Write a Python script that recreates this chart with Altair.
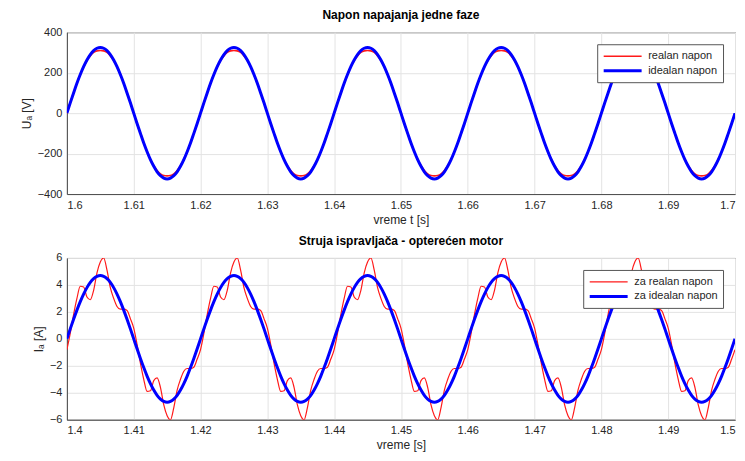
import altair as alt
import numpy as np
import pandas as pd

# time grids (0.5 ms sampling)
t_top = np.round(np.linspace(1.6, 1.7, 201), 5)
t_bot = np.round(np.linspace(1.4, 1.5, 201), 5)

u_real = [
    0, 51, 100, 148, 191, 229, 260, 283, 300, 308, 310, 308, 300, 283, 260, 229, 191, 148, 100, 51,
    0, -51, -100, -148, -191, -229, -260, -283, -300, -308, -310, -308, -300, -283, -260, -229, -191, -148, -100, -51,
    0, 51, 100, 148, 191, 229, 260, 283, 300, 308, 310, 308, 300, 283, 260, 229, 191, 148, 100, 51,
    0, -51, -100, -148, -191, -229, -260, -283, -300, -308, -310, -308, -300, -283, -260, -229, -191, -148, -100, -51,
    0, 51, 100, 148, 191, 229, 260, 283, 300, 308, 310, 308, 300, 283, 260, 229, 191, 148, 100, 51,
    0, -51, -100, -148, -191, -229, -260, -283, -300, -308, -310, -308, -300, -283, -260, -229, -191, -148, -100, -51,
    0, 51, 100, 148, 191, 229, 260, 283, 300, 308, 310, 308, 300, 283, 260, 229, 191, 148, 100, 51,
    0, -51, -100, -148, -191, -229, -260, -283, -300, -308, -310, -308, -300, -283, -260, -229, -191, -148, -100, -51,
    0, 51, 100, 148, 191, 229, 260, 283, 300, 308, 310, 308, 300, 283, 260, 229, 191, 148, 100, 51,
    0, -51, -100, -148, -191, -229, -260, -283, -300, -308, -310, -308, -300, -283, -260, -229, -191, -148, -100, -51,
    0,
]

u_ideal = [
    0, 51, 100, 148, 191, 230, 263, 290, 309, 321, 325, 321, 309, 290, 263, 230, 191, 148, 100, 51,
    0, -51, -100, -148, -191, -230, -263, -290, -309, -321, -325, -321, -309, -290, -263, -230, -191, -148, -100, -51,
    0, 51, 100, 148, 191, 230, 263, 290, 309, 321, 325, 321, 309, 290, 263, 230, 191, 148, 100, 51,
    0, -51, -100, -148, -191, -230, -263, -290, -309, -321, -325, -321, -309, -290, -263, -230, -191, -148, -100, -51,
    0, 51, 100, 148, 191, 230, 263, 290, 309, 321, 325, 321, 309, 290, 263, 230, 191, 148, 100, 51,
    0, -51, -100, -148, -191, -230, -263, -290, -309, -321, -325, -321, -309, -290, -263, -230, -191, -148, -100, -51,
    0, 51, 100, 148, 191, 230, 263, 290, 309, 321, 325, 321, 309, 290, 263, 230, 191, 148, 100, 51,
    0, -51, -100, -148, -191, -230, -263, -290, -309, -321, -325, -321, -309, -290, -263, -230, -191, -148, -100, -51,
    0, 51, 100, 148, 191, 230, 263, 290, 309, 321, 325, 321, 309, 290, 263, 230, 191, 148, 100, 51,
    0, -51, -100, -148, -191, -230, -263, -290, -309, -321, -325, -321, -309, -290, -263, -230, -191, -148, -100, -51,
    0,
]

i_real = [
    -0.8, 0.4, 1.8, 3.0, 3.9, 3.85, 3.1, 2.9, 3.6, 4.9, 5.7, 6.0, 5.1, 3.8, 3.0, 2.4, 2.2, 2.2, 2.1, 1.5,
    0.8, -0.4, -1.8, -3.0, -3.9, -3.85, -3.1, -2.9, -3.6, -4.9, -5.7, -6.0, -5.1, -3.8, -3.0, -2.4, -2.2, -2.2, -2.1, -1.5,
    -0.8, 0.4, 1.8, 3.0, 3.9, 3.85, 3.1, 2.9, 3.6, 4.9, 5.7, 6.0, 5.1, 3.8, 3.0, 2.4, 2.2, 2.2, 2.1, 1.5,
    0.8, -0.4, -1.8, -3.0, -3.9, -3.85, -3.1, -2.9, -3.6, -4.9, -5.7, -6.0, -5.1, -3.8, -3.0, -2.4, -2.2, -2.2, -2.1, -1.5,
    -0.8, 0.4, 1.8, 3.0, 3.9, 3.85, 3.1, 2.9, 3.6, 4.9, 5.7, 6.0, 5.1, 3.8, 3.0, 2.4, 2.2, 2.2, 2.1, 1.5,
    0.8, -0.4, -1.8, -3.0, -3.9, -3.85, -3.1, -2.9, -3.6, -4.9, -5.7, -6.0, -5.1, -3.8, -3.0, -2.4, -2.2, -2.2, -2.1, -1.5,
    -0.8, 0.4, 1.8, 3.0, 3.9, 3.85, 3.1, 2.9, 3.6, 4.9, 5.7, 6.0, 5.1, 3.8, 3.0, 2.4, 2.2, 2.2, 2.1, 1.5,
    0.8, -0.4, -1.8, -3.0, -3.9, -3.85, -3.1, -2.9, -3.6, -4.9, -5.7, -6.0, -5.1, -3.8, -3.0, -2.4, -2.2, -2.2, -2.1, -1.5,
    -0.8, 0.4, 1.8, 3.0, 3.9, 3.85, 3.1, 2.9, 3.6, 4.9, 5.7, 6.0, 5.1, 3.8, 3.0, 2.4, 2.2, 2.2, 2.1, 1.5,
    0.8, -0.4, -1.8, -3.0, -3.9, -3.85, -3.1, -2.9, -3.6, -4.9, -5.7, -6.0, -5.1, -3.8, -3.0, -2.4, -2.2, -2.2, -2.1, -1.5,
    -0.8,
]

i_ideal = [
    0, 0.74, 1.45, 2.13, 2.76, 3.32, 3.8, 4.19, 4.47, 4.64, 4.7, 4.64, 4.47, 4.19, 3.8, 3.32, 2.76, 2.13, 1.45, 0.74,
    0, -0.74, -1.45, -2.13, -2.76, -3.32, -3.8, -4.19, -4.47, -4.64, -4.7, -4.64, -4.47, -4.19, -3.8, -3.32, -2.76, -2.13, -1.45, -0.74,
    0, 0.74, 1.45, 2.13, 2.76, 3.32, 3.8, 4.19, 4.47, 4.64, 4.7, 4.64, 4.47, 4.19, 3.8, 3.32, 2.76, 2.13, 1.45, 0.74,
    0, -0.74, -1.45, -2.13, -2.76, -3.32, -3.8, -4.19, -4.47, -4.64, -4.7, -4.64, -4.47, -4.19, -3.8, -3.32, -2.76, -2.13, -1.45, -0.74,
    0, 0.74, 1.45, 2.13, 2.76, 3.32, 3.8, 4.19, 4.47, 4.64, 4.7, 4.64, 4.47, 4.19, 3.8, 3.32, 2.76, 2.13, 1.45, 0.74,
    0, -0.74, -1.45, -2.13, -2.76, -3.32, -3.8, -4.19, -4.47, -4.64, -4.7, -4.64, -4.47, -4.19, -3.8, -3.32, -2.76, -2.13, -1.45, -0.74,
    0, 0.74, 1.45, 2.13, 2.76, 3.32, 3.8, 4.19, 4.47, 4.64, 4.7, 4.64, 4.47, 4.19, 3.8, 3.32, 2.76, 2.13, 1.45, 0.74,
    0, -0.74, -1.45, -2.13, -2.76, -3.32, -3.8, -4.19, -4.47, -4.64, -4.7, -4.64, -4.47, -4.19, -3.8, -3.32, -2.76, -2.13, -1.45, -0.74,
    0, 0.74, 1.45, 2.13, 2.76, 3.32, 3.8, 4.19, 4.47, 4.64, 4.7, 4.64, 4.47, 4.19, 3.8, 3.32, 2.76, 2.13, 1.45, 0.74,
    0, -0.74, -1.45, -2.13, -2.76, -3.32, -3.8, -4.19, -4.47, -4.64, -4.7, -4.64, -4.47, -4.19, -3.8, -3.32, -2.76, -2.13, -1.45, -0.74,
    0,
]

names_top = ["realan napon", "idealan napon"]
names_bot = ["za realan napon", "za idealan napon"]
x_ticks_top = [1.6, 1.61, 1.62, 1.63, 1.64, 1.65, 1.66, 1.67, 1.68, 1.69, 1.7]
x_ticks_bot = [1.4, 1.41, 1.42, 1.43, 1.44, 1.45, 1.46, 1.47, 1.48, 1.49, 1.5]
y_ticks_top = [-400, -200, 0, 200, 400]
y_ticks_bot = [-6, -4, -2, 0, 2, 4, 6]

FONT = "Liberation Sans"

df_top = pd.concat([
    pd.DataFrame({"t": t_top, "v": u_real, "s": names_top[0]}),
    pd.DataFrame({"t": t_top, "v": u_ideal, "s": names_top[1]}),
])
df_bot = pd.concat([
    pd.DataFrame({"t": t_bot, "v": i_real, "s": names_bot[0]}),
    pd.DataFrame({"t": t_bot, "v": i_ideal, "s": names_bot[1]}),
])


def panel(df, names, title, xtitle, ytitle, xticks, yticks, red_w, blue_w):
    leg = alt.Legend(
        title=None, orient="top-right", offset=12, padding=5,
        strokeColor="#555555", fillColor="white", cornerRadius=0,
        symbolType="M-1,0H5.33", symbolSize=144, labelFontSize=11,
        labelFont=FONT, labelColor="#262626", rowPadding=2, labelOffset=31,
    )
    color = alt.Color("s:N", scale=alt.Scale(domain=names, range=["#ff1a1a", "#0000ff"]), legend=leg)
    sw = alt.StrokeWidth("s:N", scale=alt.Scale(domain=names, range=[red_w, blue_w]), legend=leg)
    x = alt.X("t:Q", scale=alt.Scale(domain=[xticks[0], xticks[-1]], nice=False, zero=False),
              axis=alt.Axis(values=xticks, format=".3~g", title=xtitle))
    y = alt.Y("v:Q", scale=alt.Scale(domain=[yticks[0], yticks[-1]], nice=False),
              axis=alt.Axis(values=yticks, title=ytitle))
    base = alt.Chart(df)
    red = base.transform_filter(alt.datum.s == names[0]).mark_line(
        clip=True, interpolate="monotone").encode(x=x, y=y, color=color, strokeWidth=sw)
    blue = base.transform_filter(alt.datum.s == names[1]).mark_line(
        clip=True, interpolate="monotone").encode(x=x, y=y, color=color, strokeWidth=sw)
    return alt.layer(red, blue).properties(
        width=669, height=162,
        title=alt.Title(title, fontSize=12, fontWeight="bold", font=FONT, color="#000000", offset=4),
    )


top = panel(df_top, names_top, "Napon napajanja jedne faze", "vreme t [s]", "Uₐ  [V]",
            x_ticks_top, y_ticks_top, 1.6, 3)
bot = panel(df_bot, names_bot, "Struja ispravljača - opterećen motor", "vreme [s]", "Iₐ  [A]",
            x_ticks_bot, y_ticks_bot, 1.2, 3)

chart = alt.vconcat(top, bot, spacing=8).resolve_scale(
    color="independent", strokeWidth="independent", x="independent", y="independent"
).resolve_legend(
    color="independent", strokeWidth="independent"
).properties(
    padding={"left": 19, "top": 8, "right": 9, "bottom": 2},
    background="white",
).configure_view(
    stroke="#4d4d4d", strokeWidth=1
).configure_axis(
    labelFont=FONT, labelFontSize=11, labelColor="#262626",
    titleFont=FONT, titleFontSize=12, titleColor="#262626", titleFontWeight="normal",
    domainColor="#4d4d4d", gridColor="#e3e3e3", gridWidth=1,
    ticks=False, labelPadding=5, titlePadding=4,
)

chart.save("out.html", embed_options={"renderer": "svg", "actions": False})
